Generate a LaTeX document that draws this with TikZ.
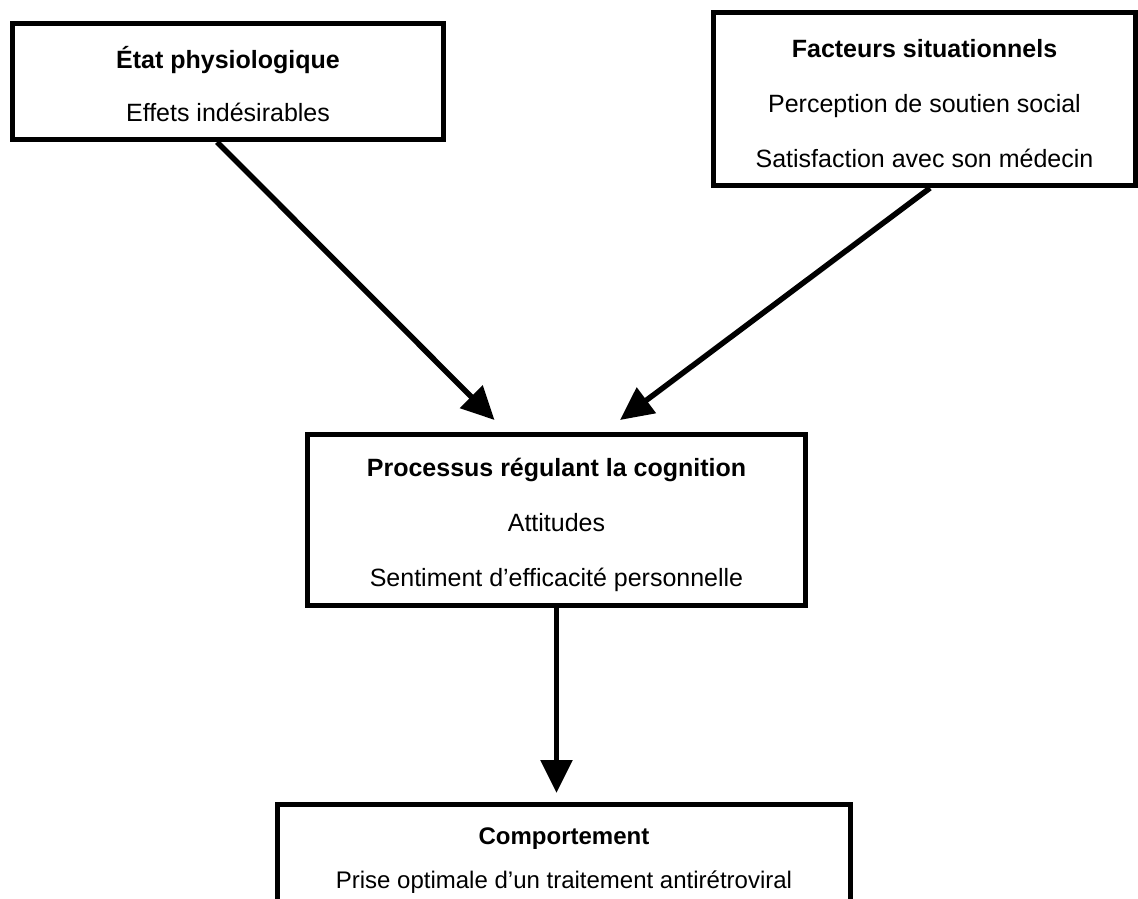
\documentclass[tikz,border=0pt]{standalone}
\usepackage{fontspec}
\setmainfont{Liberation Sans}
\usetikzlibrary{arrows.meta}
\tikzset{
  boxnode/.style={draw, line width=5pt, inner sep=0pt, fill=white},
  txtnode/.style={align=center, inner sep=0pt, font=\fontsize{25pt}{55pt}\selectfont},
  arr/.style={line width=5.5pt, -{Triangle[length=33pt,width=31pt]}}
}
\begin{document}
\begin{tikzpicture}[x=1pt,y=-1pt]
\useasboundingbox (0,0) rectangle (1138,899);
\clip (0,0) rectangle (1138,899);
\node[boxnode, minimum width=431pt, minimum height=116pt] (b1) at (228,81.5) {};
\node[txtnode, font=\fontsize{25pt}{53pt}\selectfont] (t1) at (228,84.5)
  {\textbf{État physiologique}\\Effets indésirables};
\node[boxnode, minimum width=422pt, minimum height=173pt] (b2) at (924.5,99) {};
\node[txtnode] (t2) at (924.5,103.5)
  {\textbf{Facteurs situationnels}\\Perception de soutien social\\Satisfaction avec son médecin};
\node[boxnode, minimum width=498pt, minimum height=171pt] (b3) at (556.5,520) {};
\node[txtnode] (t3) at (556.5,524.5)
  {\textbf{Processus régulant la cognition}\\Attitudes\\Sentiment d’efficacité personnelle};
\node[boxnode, minimum width=573pt, minimum height=111pt] (b4) at (564,860) {};
\node[txtnode, font=\fontsize{24pt}{44pt}\selectfont] (t4) at (564,861)
  {\textbf{Comportement}\\Prise optimale d’un traitement antirétroviral};
\draw[arr] ([xshift=-11pt]b1.south) -- ([xshift=-62pt,yshift=12pt]b3.north);
\draw[arr] ([xshift=5.5pt]b2.south) -- ([xshift=63.5pt,yshift=12pt]b3.north);
\draw[arr] (b3.south) -- ([yshift=9pt]b3.south |- b4.north);
\end{tikzpicture}
\end{document}
